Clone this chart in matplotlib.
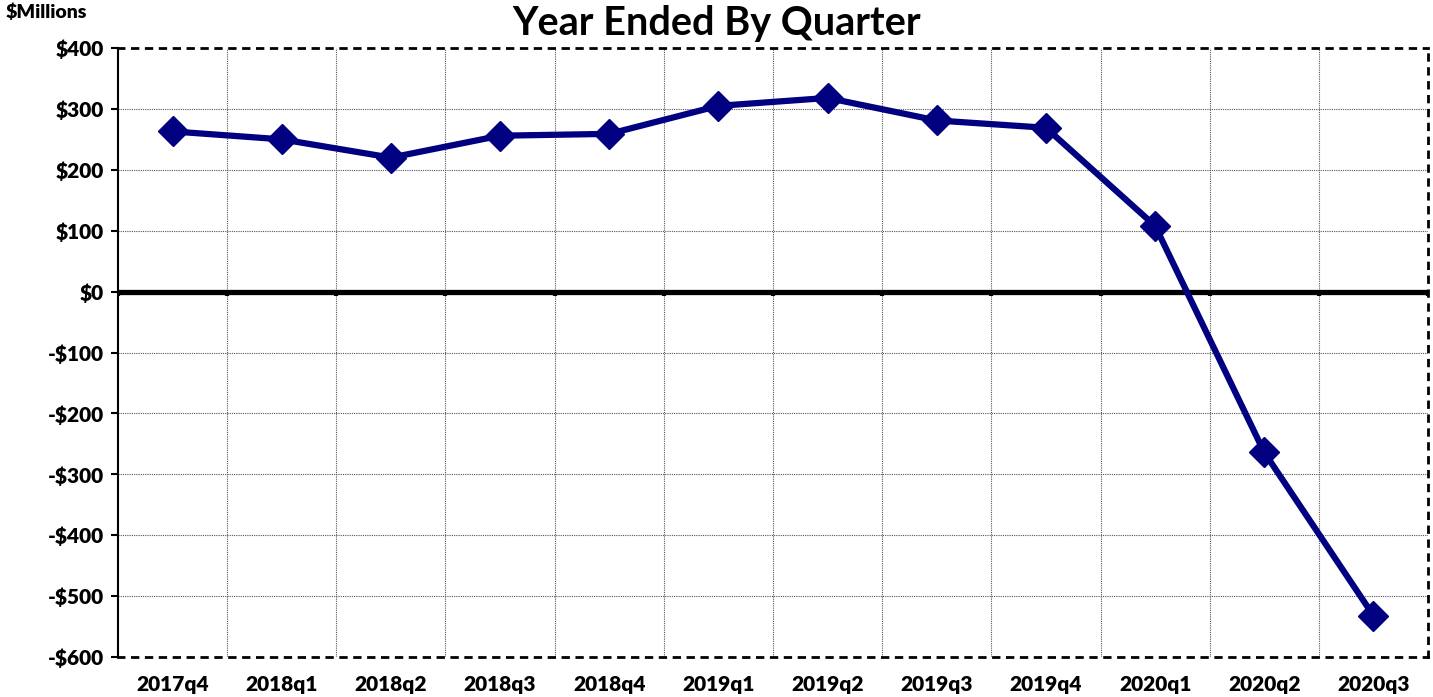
import matplotlib
matplotlib.use("Agg")
import matplotlib.pyplot as plt
import numpy as np

quarters = ["2017q4", "2018q1", "2018q2", "2018q3", "2018q4", "2019q1",
            "2019q2", "2019q3", "2019q4", "2020q1", "2020q2", "2020q3"]
values = [263, 250, 220, 256, 259, 305, 318, 281, 269, 108, -264, -532]
yticks = [-600, -500, -400, -300, -200, -100, 0, 100, 200, 300, 400]

plt.rcParams['font.family'] = ['Lato', 'DejaVu Sans']
plt.rcParams['font.weight'] = 'bold'

fig = plt.figure(figsize=(14.33, 6.97), dpi=100)
ax = fig.add_axes([118/1433, 40/697, 1310/1433, 609/697])

x = np.arange(len(quarters))
ax.set_xlim(-0.5, len(quarters) - 0.5)
ax.set_ylim(-600, 400)

# grid: dotted lines at category boundaries and y ticks
for b in np.arange(-0.5, len(quarters), 1.0)[1:-1]:
    ax.axvline(b, color='#555555', lw=0.8, ls=(0, (1, 1)), zorder=1)
for t in yticks[1:-1]:
    if t != 0:
        ax.axhline(t, color='#555555', lw=0.8, ls=(0, (1, 1)), zorder=1)

# zero line with small ticks at category boundaries
ax.axhline(0, color='black', lw=3.8, zorder=2)
for b in np.arange(-0.5, len(quarters), 1.0):
    ax.plot([b, b], [0, -8], color='black', lw=3, zorder=2, solid_capstyle='butt')

ax.plot(x, values, color='#000080', lw=4.5, marker='D', markersize=15, zorder=3)

# dashed frame
for side in ['top', 'bottom', 'right']:
    ax.spines[side].set_linestyle((0, (2, 3)))
    ax.spines[side].set_linewidth(2)
ax.spines['left'].set_linewidth(1.5)

ax.set_yticks(yticks)
ax.set_yticklabels([("-$%d" % -t) if t < 0 else ("$%d" % t) for t in yticks],
                   fontsize=15, fontweight='heavy')
ax.tick_params(axis='y', direction='out', length=5, width=1.5, pad=5)
ax.set_xticks(x)
ax.set_xticklabels(quarters, fontsize=15, fontweight='heavy')
ax.tick_params(axis='x', length=0, pad=13)

fig.text(0.5, 674/697, "Year Ended By Quarter", ha='center', va='center',
         fontsize=28.5, fontweight='bold')
fig.text(6/1433, 685/697, "$Millions", ha='left', va='center',
         fontsize=14, fontweight='heavy')

fig.savefig("out.png", dpi=100)
